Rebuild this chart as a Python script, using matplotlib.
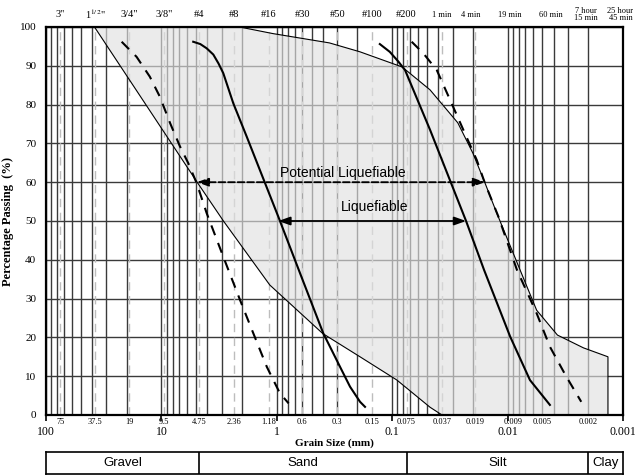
import numpy as np
import matplotlib
matplotlib.use("Agg")
from matplotlib import pyplot as plt
from matplotlib import ticker

plt.rcParams['font.family'] = ['Liberation Serif', 'DejaVu Serif']
plt.rcParams['mathtext.fontset'] = 'stix'

# ---- data (grain size in mm, percent passing) ----
lower_d = [38, 4.9, 2.9, 1.15, 0.40, 0.19, 0.091, 0.047, 0.037]
lower_p = [100, 60, 50, 33.5, 21, 15, 9, 2, 0]

upper_d = [2.1, 1.08, 0.35, 0.19, 0.082, 0.047, 0.027, 0.020, 0.0157, 0.0124,
           0.0078, 0.0056, 0.0037, 0.0022, 0.00135, 0.00135]
upper_p = [100, 98.3, 95.9, 93.6, 89.7, 83.8, 75.3, 67.5, 59.8, 52,
           37.4, 27, 20.6, 17.3, 15, 0]

liq_left_d = [5.3, 4.6, 4.05, 3.55, 3.2, 2.91, 2.38, 1.82, 1.40, 0.97, 0.63, 0.395,
              0.346, 0.283, 0.232, 0.19, 0.172]
liq_left_p = [96.2, 95.6, 94.5, 92.9, 90.6, 88.1, 80.3, 71.7, 63.1, 51.1, 36.6, 21.0,
              17.6, 12.4, 7.3, 3.4, 2.1]

liq_right_d = [0.128, 0.105, 0.0885, 0.0774, 0.047, 0.0229, 0.016, 0.0095, 0.0064, 0.0043]
liq_right_p = [95.6, 93.6, 91.1, 88.9, 73.5, 50.0, 37.4, 20.2, 9.0, 2.6]

pot_left_d = [22.1, 16.4, 12.6, 10.3, 8.4, 6.9, 5.85, 4.94, 4.05, 2.91, 2.08,
              1.60, 1.22, 0.94, 0.79]
pot_left_p = [96.2, 92.3, 87.2, 82.0, 75.2, 69.2, 64.9, 59.7, 52.0, 40.8, 29.6,
              21.1, 12.4, 5.6, 3.0]

pot_right_d = [0.0678, 0.0537, 0.0411, 0.0315, 0.0242, 0.0185, 0.0157, 0.0120,
               0.0083, 0.0056, 0.0043, 0.0031, 0.0023]
pot_right_p = [96.2, 93.2, 88.9, 81.2, 73.5, 65.7, 59.7, 51.1,
               37.4, 26.2, 17.6, 9.9, 3.4]

# sieve sizes / hydrometer readings
sieve_mm = [75, 37.5, 19, 9.5, 4.75, 2.36, 1.18, 0.6, 0.3, 0.15, 0.075,
            0.037, 0.019, 0.009, 0.005, 0.002]
sieve_lbl = ['75', '37.5', '19', '9.5', '4.75', '2.36', '1.18', '0.6', '0.3',
             '0.15', '0.075', '0.037', '0.019', '0.009', '0.005', '0.002']
top_mm = [75, 37.5, 19, 9.5, 4.75, 2.36, 1.18, 0.6, 0.3, 0.15, 0.075,
          0.037, 0.021, 0.0095, 0.0042, 0.0021, 0.00105]
top_lbl = ['3"', '1$^{1/2}$"', '3/4"', '3/8"', '#4', '#8', '#16', '#30', '#50',
           '#100', '#200', '1 min', '4 min', '19 min', '60 min',
           '7 hour\n15 min', '25 hour\n45 min']
decades = [100, 10, 1, 0.1, 0.01, 0.001]
decade_lbl = ['100', '10', '1', '0.1', '0.01', '0.001']

soil_names = ['Gravel', 'Sand', 'Silt', 'Clay']
soil_edges = [100, 4.75, 0.075, 0.002, 0.001]

fig = plt.figure(figsize=(6.35, 4.76), dpi=100)
ax = fig.add_axes([46/635, 61/476, 577/635, 388/476])
ax.set_xscale('log')
ax.set_xlim(100, 0.001)
ax.set_ylim(0, 100)

# grid
ax.xaxis.set_major_locator(ticker.FixedLocator(decades))
ax.xaxis.set_minor_locator(ticker.LogLocator(base=10, subs=np.arange(2, 10)))
ax.xaxis.set_minor_formatter(ticker.NullFormatter())
ax.set_xticklabels(decade_lbl, fontsize=8.5)
ax.tick_params(axis='x', which='major', direction='out', length=4, width=1.2, pad=4)
ax.tick_params(axis='x', which='minor', length=0)
ax.set_yticks(range(0, 101, 10))
ax.tick_params(axis='y', length=0, pad=7, labelsize=8)
ax.grid(True, which='both', axis='x', color='#3a3a3a', lw=1.0, zorder=1)
ax.grid(True, which='major', axis='y', color='#3a3a3a', lw=1.0, zorder=1)
ax.set_axisbelow(True)

for d in sieve_mm[:13]:
    ax.axvline(d, color='#bdbdbd', lw=1.0, ls=(0, (6, 4)), zorder=1.5)

# shaded envelope
env_d = lower_d + upper_d[::-1]
env_p = lower_p + upper_p[::-1]
ax.fill(env_d, env_p, facecolor='#e1e1e1', alpha=0.65, edgecolor='none', zorder=2)
ax.plot(lower_d, lower_p, color='black', lw=0.8, zorder=3)
ax.plot(upper_d, upper_p, color='black', lw=0.8, zorder=3)

# limit curves
ax.plot(liq_left_d, liq_left_p, color='black', lw=1.5, zorder=4)
ax.plot(liq_right_d, liq_right_p, color='black', lw=1.5, zorder=4)
ax.plot(pot_left_d, pot_left_p, color='black', lw=1.5, ls=(0, (5, 4)), zorder=4)
ax.plot(pot_right_d, pot_right_p, color='black', lw=1.5, ls=(0, (5, 4)), zorder=4)

# arrows
ax.annotate('', xy=(0.0157, 60), xytext=(4.94, 60),
            arrowprops=dict(arrowstyle='<|-|>,head_length=0.7,head_width=0.25',
                            color='black', lw=1.3, ls='--', shrinkA=0, shrinkB=0),
            zorder=5)
ax.annotate('', xy=(0.0229, 50), xytext=(0.97, 50),
            arrowprops=dict(arrowstyle='<|-|>,head_length=0.7,head_width=0.25',
                            color='black', lw=1.3, shrinkA=0, shrinkB=0),
            zorder=5)
ax.text(0.27, 62.5, 'Potential Liquefiable', family='Liberation Sans', fontsize=10,
        ha='center', va='center', zorder=6)
ax.text(0.143, 53.5, 'Liquefiable', family='Liberation Sans', fontsize=10,
        ha='center', va='center', zorder=6)

for s in ax.spines.values():
    s.set_linewidth(1.6)
    s.set_zorder(7)

# sieve size labels below axis, sieve names above
trans = ax.get_xaxis_transform()
for d, lbl in zip(sieve_mm, sieve_lbl):
    ax.text(d, -0.018, lbl, transform=trans, fontsize=6, ha='center', va='center')
for d, lbl in zip(top_mm, top_lbl):
    small = 'min' in lbl
    ax.text(d, 1.032, lbl, transform=trans, fontsize=6 if small else 7.5,
            ha='center', va='center', linespacing=0.9)

ax.set_ylabel('Percentage Passing  (%)', fontsize=9, fontweight='bold', labelpad=4)
ax.text(0.5, -0.072, 'Grain Size (mm)', transform=ax.transAxes, fontsize=8,
        fontweight='bold', ha='center', va='center')

# soil classification bar
tab = fig.add_axes([46/635, 2/476, 577/635, 22/476])
tab.set_xscale('log')
tab.set_xlim(100, 0.001)
tab.set_ylim(0, 1)
tab.set_xticks([])
tab.set_yticks([])
tab.minorticks_off()
for d in soil_edges[1:-1]:
    tab.axvline(d, color='black', lw=1.2)
for i, name in enumerate(soil_names):
    xc = np.sqrt(soil_edges[i] * soil_edges[i + 1])
    tab.text(xc, 0.5, name, family='Liberation Sans', fontsize=9.5,
             ha='center', va='center')
for s in tab.spines.values():
    s.set_linewidth(1.2)

fig.savefig('out.png', dpi=100)
